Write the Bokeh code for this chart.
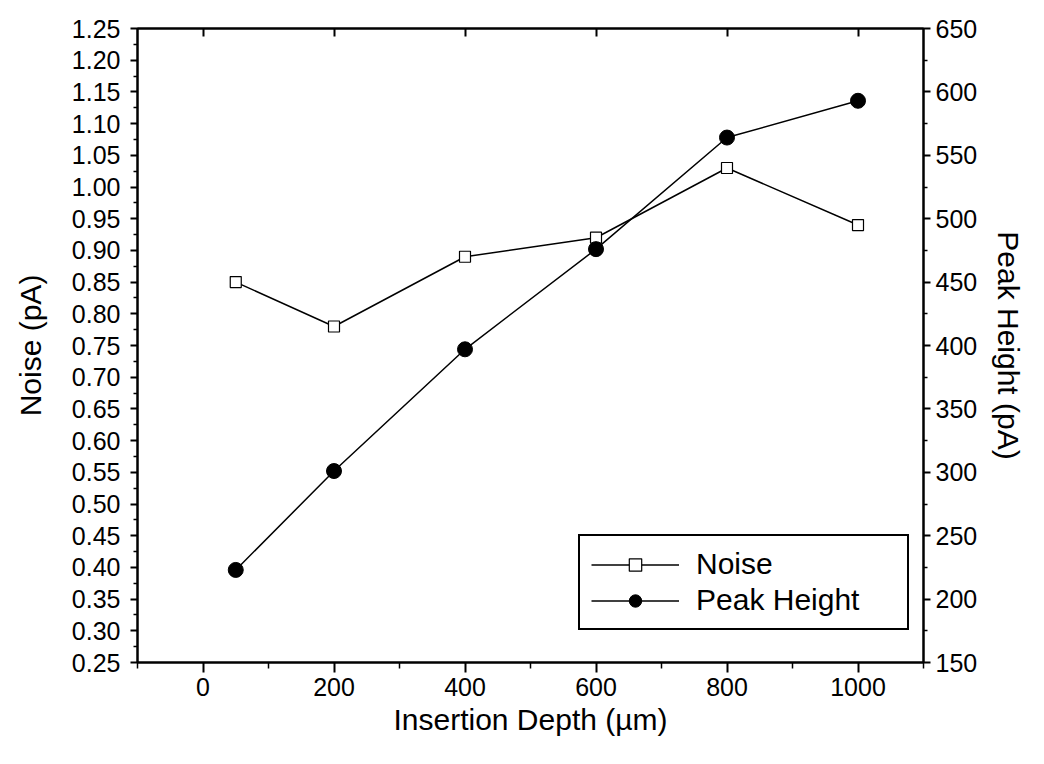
from bokeh.plotting import figure
from bokeh.models import Range1d, LinearAxis, FixedTicker, Legend, LegendItem, ColumnDataSource, NumeralTickFormatter
from bokeh.embed import file_html
from bokeh.resources import INLINE

# ---- data ----
depth = [50, 200, 400, 600, 800, 1000]
noise = [0.85, 0.78, 0.89, 0.92, 1.03, 0.94]
peak = [223, 301, 397, 476, 564, 593]

x_ticks = [0, 200, 400, 600, 800, 1000]
x_minor = [-100, 100, 300, 500, 700, 900, 1100]
noise_ticks = [round(0.25 + 0.05 * i, 2) for i in range(21)]
peak_ticks = [150, 200, 250, 300, 350, 400, 450, 500, 550, 600, 650]

FONT = "Liberation Sans"

src = ColumnDataSource(dict(depth=depth, noise=noise, peak=peak))

p = figure(width=1028, height=748, output_backend="svg", toolbar_location=None,
           x_range=Range1d(-100, 1100), y_range=Range1d(0.25, 1.25),
           min_border_left=137, min_border_right=102, min_border_top=28, min_border_bottom=86)
p.extra_y_ranges = {"peak": Range1d(150, 650)}
p.grid.visible = False
p.outline_line_color = "black"
p.outline_line_width = 2
p.background_fill_color = "white"
p.border_fill_color = "white"

def style(ax):
    ax.axis_line_width = 2
    ax.axis_line_color = "black"
    ax.major_tick_line_width = 2
    ax.minor_tick_line_width = 1.5
    ax.major_tick_in = 0
    ax.minor_tick_in = 0
    ax.major_label_text_font = FONT
    ax.major_label_text_font_size = "25px"
    ax.major_label_text_color = "black"
    ax.axis_label_text_font = FONT
    ax.axis_label_text_font_size = "30px"
    ax.axis_label_text_font_style = "normal"
    ax.axis_label_text_color = "black"

# bottom axis
xa = p.xaxis[0]
style(xa)
xa.ticker = FixedTicker(ticks=x_ticks, minor_ticks=x_minor)
xa.major_tick_out = 10
xa.minor_tick_out = 6
xa.major_label_standoff = 5
xa.axis_label = "Insertion Depth (µm)"
xa.axis_label_standoff = 4

# left axis
ya = p.yaxis[0]
style(ya)
ya.ticker = FixedTicker(ticks=noise_ticks,
                        minor_ticks=[round(0.275 + 0.05 * i, 3) for i in range(20)])
ya.formatter = NumeralTickFormatter(format="0.00")
ya.major_tick_out = 7
ya.minor_tick_out = 4
ya.major_label_standoff = 10
ya.axis_label = "Noise (pA)"
ya.axis_label_standoff = 22

# right axis
ra = LinearAxis(y_range_name="peak", axis_label="Peak Height (pA)")
style(ra)
ra.ticker = FixedTicker(ticks=peak_ticks, minor_ticks=[175 + 50 * i for i in range(10)])
ra.major_tick_out = 7
ra.minor_tick_out = 4
ra.major_label_standoff = 5
ra.axis_label_standoff = 12
p.add_layout(ra, "right")

# top axis (ticks only)
ta = LinearAxis(ticker=FixedTicker(ticks=x_ticks, minor_ticks=[]),
                major_label_overrides={t: "" for t in x_ticks})
style(ta)
ta.major_tick_in = 8
ta.major_tick_out = 0
ta.minor_tick_out = 0
p.add_layout(ta, "above")

# series
l1 = p.line("depth", "noise", source=src, line_color="black", line_width=1.5)
m1 = p.scatter("depth", "noise", source=src, marker="square", size=11,
               fill_color="white", line_color="black", line_width=1.2)
l2 = p.line("depth", "peak", source=src, y_range_name="peak", line_color="black", line_width=1.5)
m2 = p.scatter("depth", "peak", source=src, y_range_name="peak", marker="circle", size=15,
               fill_color="black", line_color="black")

legend = Legend(items=[LegendItem(label="Noise", renderers=[l1, m1]),
                       LegendItem(label="Peak Height", renderers=[l2, m2])],
                location=(441, 32), orientation="vertical")
legend.border_line_color = "black"
legend.border_line_width = 2
legend.border_line_alpha = 1
legend.background_fill_alpha = 1
legend.label_text_font = FONT
legend.label_text_font_size = "30px"
legend.label_text_color = "black"
legend.glyph_width = 88
legend.glyph_height = 31
legend.label_height = 31
legend.label_width = 200
legend.label_standoff = 17
legend.spacing = 2
legend.padding = 11
legend.margin = 0
p.add_layout(legend, "center")

open("out.html", "w").write(file_html(p, INLINE))
